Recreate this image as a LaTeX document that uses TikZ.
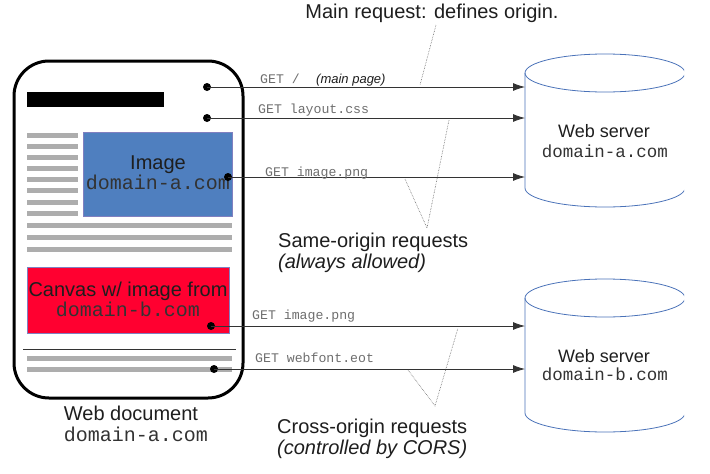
\documentclass[tikz,border=0pt]{standalone}
\usepackage{fontspec}
\setmainfont{Liberation Sans}
\setmonofont{Liberation Mono}
\usetikzlibrary{arrows.meta}
\definecolor{imgblue}{HTML}{4F7FBF}
\definecolor{canvasred}{HTML}{FF0030}
\definecolor{bargrey}{HTML}{ADADAD}
\definecolor{srvblue}{HTML}{4A72B8}
\definecolor{labelgrey}{HTML}{6E6E6E}
\definecolor{txt}{HTML}{1E1E1E}
\definecolor{monotxt}{HTML}{333333}
\definecolor{boxedge}{HTML}{8080C0}
\begin{document}
\begin{tikzpicture}[x=1pt,y=-1pt,
  bigtxt/.style={font=\fontsize{20}{22}\selectfont, text=txt, inner sep=0pt},
  bigmono/.style={font=\ttfamily\fontsize{20}{22}\selectfont, text=monotxt, inner sep=0pt},
  srvtxt/.style={font=\fontsize{18}{20}\selectfont, text=txt, inner sep=0pt, anchor=base},
  srvmono/.style={font=\ttfamily\fontsize{17.5}{20}\selectfont, text=monotxt, inner sep=0pt, anchor=base},
  getlbl/.style={font=\ttfamily\fontsize{13.2}{15}\selectfont, text=labelgrey, inner sep=0pt, anchor=base west},
  dotnode/.style={circle, fill=black, inner sep=0pt, minimum size=8pt},
  req/.style={draw=black!80, line width=0.8pt, -{Latex[length=12pt,width=8pt]}},
  dotline/.style={draw=black!60, line width=0.6pt, densely dotted},
  greybar/.style={draw=bargrey, line width=5pt},
  srv/.style={draw=srvblue, line width=0.8pt},
]
\useasboundingbox (0,0) rectangle (710,474);

% ---------- web document ----------
\draw[line width=3pt, rounded corners=35pt] (14,61) rectangle (243,398);
\fill[black] (27,92) rectangle (164,107);
\foreach \yy in {135,146,157,168,179,190,202,213} \draw[greybar] (27,\yy) -- (78,\yy);
\foreach \yy in {225,237,249,358,369} \draw[greybar] (27,\yy) -- (232,\yy);
\node[draw=boxedge, line width=0.4pt, fill=imgblue, inner sep=0pt, minimum width=149pt, minimum height=84pt] (img) at (157.5,174) {};
\node[draw=boxedge, line width=0.4pt, fill=canvasred, inner sep=0pt, minimum width=202pt, minimum height=66pt] (cnv) at (128,300) {};
\draw[line width=0.8pt, draw=black!80] (23,349) -- (236,349);

\node[bigtxt, anchor=base] (imgt) at (158,169) {Image};
\node[bigmono, anchor=base] (imgd) at (158,189) {domain-a.com};
\node[bigtxt, anchor=base] (cnvt) at (128,296) {Canvas w/ image from};
\node[bigmono, anchor=base] (cnvd) at (128,316) {domain-b.com};
\node[bigtxt, anchor=base] (doct) at (131,420) {Web document};
\node[bigmono, anchor=base] (docd) at (136,441) {domain-a.com};

% ---------- dots ----------
\node[dotnode] (d1) at (207,87) {};
\node[dotnode] (d2) at (207,118) {};
\node[dotnode] (d3) at (228,177) {};
\node[dotnode] (d4) at (211,326) {};
\node[dotnode] (d5) at (214,369) {};

% ---------- servers ----------
\begin{scope}
\clip (0,0) rectangle (684,474);
\draw[srv] (605,73) ellipse [x radius=80pt, y radius=19pt];
\draw[srv] (525,73) -- (525,188) arc[start angle=180, end angle=360, x radius=80pt, y radius=19pt];
\draw[srv] (605,298) ellipse [x radius=80pt, y radius=19pt];
\draw[srv] (525,298) -- (525,413) arc[start angle=180, end angle=360, x radius=80pt, y radius=19pt];
\end{scope}
\node[srvtxt] (s1t) at (604,137) {Web server};
\node[srvmono] (s1d) at (605,157) {domain-a.com};
\node[srvtxt] (s2t) at (604,362) {Web server};
\node[srvmono] (s2d) at (605,380) {domain-b.com};

\coordinate (a1) at (525,87);
\coordinate (a2) at (525,118);
\coordinate (a3) at (525,177);
\coordinate (a4) at (525,326);
\coordinate (a5) at (525,369);

% ---------- requests ----------
\draw[req] (d1.center) -- (a1);
\draw[req] (d2.center) -- (a2);
\draw[req] (d3.center) -- (a3);
\draw[req] (d4.center) -- (a4);
\draw[req] (d5.center) -- (a5);

\node[getlbl] (g1) at (260,83) {GET /};
\node[font=\itshape\fontsize{13}{15}\selectfont, text=txt, inner sep=0pt, anchor=base west] (g1b) at (316,83) {(main page)};
\node[getlbl] (g2) at (258,113) {GET layout.css};
\node[getlbl] (g3) at (265,176) {GET image.png};
\node[getlbl] (g4) at (252,319) {GET image.png};
\node[getlbl] (g5) at (255,362) {GET webfont.eot};

% ---------- annotations ----------
\node[bigtxt, anchor=base] (mainreq) at (432,18) {Main request: defines origin.};
\node[bigtxt, anchor=base west] (same1) at (278,247) {Same-origin requests};
\node[bigtxt, anchor=base west, font=\itshape\fontsize{20}{22}\selectfont] (same2) at (278,268) {(always allowed)};
\node[bigtxt, anchor=base west] (cross1) at (277,433) {Cross-origin requests};
\node[bigtxt, anchor=base west, font=\itshape\fontsize{20}{22}\selectfont] (cross2) at (277,454) {(controlled by CORS)};

\coordinate (m1) at (436,25);
\coordinate (m2) at (420,85);
\draw[dotline] (m1) -- (m2);
\coordinate (sa) at (405,179);
\coordinate (sv) at (427,228);
\coordinate (sb) at (449,120);
\draw[dotline] (sa) -- (sv) -- (sb);
\coordinate (ca) at (408,370);
\coordinate (cv) at (435,406);
\coordinate (cb) at (458,328);
\draw[dotline] (ca) -- (cv) -- (cb);
\end{tikzpicture}
\end{document}
